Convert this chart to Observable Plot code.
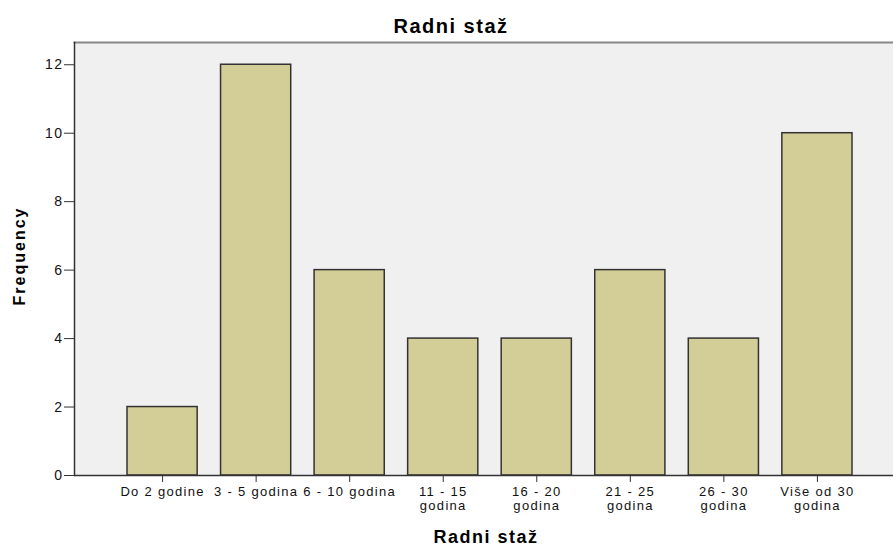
<!DOCTYPE html>
<html>
<head>
<meta charset="utf-8">
<script src="https://cdn.jsdelivr.net/npm/d3@7"></script>
<script src="https://cdn.jsdelivr.net/npm/@observablehq/plot@0.6"></script>
<style>
  html, body { margin: 0; padding: 0; background: #fff; }
  svg { display: block; }
</style>
</head>
<body>
<div id="chart"></div>
<script>
const categories = ["Do 2 godine", "3 - 5 godina", "6 - 10 godina", "11 - 15\ngodina", "16 - 20\ngodina", "21 - 25\ngodina", "26 - 30\ngodina", "Više od 30\ngodina"];
const frequencies = [2, 12, 6, 4, 4, 6, 4, 10];
const yTicks = [0, 2, 4, 6, 8, 10, 12];
const chartTitle = "Radni staž";
const xLabel = "Radni staž";
const yLabel = "Frequency";

const data = categories.map((c, i) => ({category: c, value: frequencies[i]}));

const chart = Plot.plot({
  width: 893,
  height: 546,
  marginLeft: 74,
  marginTop: 42,
  marginRight: 0,
  marginBottom: 71,
  style: {fontFamily: "Arial, 'Liberation Sans', sans-serif", fontSize: "13px", color: "#000", background: "#fff"},
  x: {type: "band", domain: categories, range: [127, 852], paddingInner: 0.25, paddingOuter: 0, round: false, label: null},
  y: {domain: [0, 12.65], label: null},
  marks: [
    Plot.frame({fill: "#f0f0f0"}),
    Plot.frame({anchor: "top", stroke: "#888", strokeWidth: 2}),
    Plot.barY(data, {x: "category", y: "value", fill: "#d3ce97", stroke: "#333", strokeWidth: 1.5}),
    Plot.axisY({ticks: yTicks, tickSize: 10, tickPadding: 1, tickFormat: d => d, fontSize: 14, stroke: "#333", fill: "#111", label: null}),
    Plot.axisX({tickSize: 7, tickPadding: 3, fontSize: 13, lineHeight: 1.1, stroke: "#333", fill: "#111", label: null}),
    Plot.frame({anchor: "left", stroke: "#333", strokeWidth: 1.5}),
    Plot.ruleY([0], {stroke: "#333", strokeWidth: 1.5}),
    Plot.text([chartTitle], {frameAnchor: "top", textAnchor: "middle", lineAnchor: "middle", dx: -33, dy: -16, fontSize: 20, fontWeight: "bold", fill: "#000"}),
    Plot.text([xLabel], {frameAnchor: "bottom", textAnchor: "middle", lineAnchor: "middle", dx: 2, dy: 62, fontSize: 18, fontWeight: "bold", fill: "#000"}),
    Plot.text([yLabel], {frameAnchor: "left", textAnchor: "middle", lineAnchor: "middle", dx: -55, dy: -3, rotate: -90, fontSize: 16, fontWeight: "bold", fill: "#000"})
  ]
});
const sel = d3.select(chart);
sel.selectAll('g[aria-label="x-axis tick label"] text').style("letter-spacing", "1.3px");
sel.selectAll('g[aria-label="y-axis tick label"] text').style("letter-spacing", "1.5px");
sel.selectAll('g[aria-label="text"] text').each(function() {
  const t = this.textContent;
  if (t === yLabel) this.style.letterSpacing = "2px";
  else this.style.letterSpacing = "1.5px";
});
document.getElementById("chart").appendChild(chart);
</script>
</body>
</html>
